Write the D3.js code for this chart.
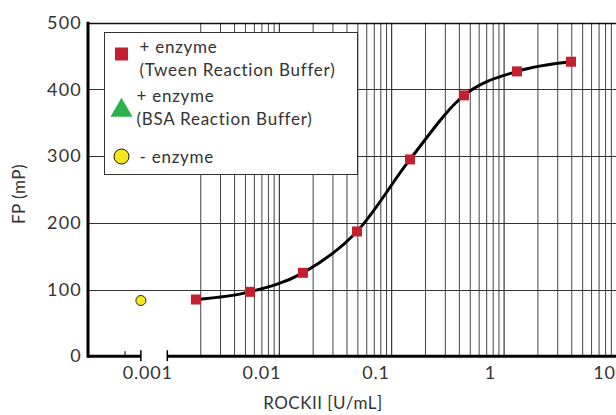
<!DOCTYPE html>
<html>
<head>
<meta charset="utf-8">
<script src="https://cdn.jsdelivr.net/npm/d3@7"></script>
<style>
  body { margin: 0; background: #fff; }
  svg { display: block; font-family: Lato, "Open Sans", sans-serif; }
</style>
</head>
<body>
<svg id="chart" width="616" height="415"></svg>
<script>
// ROCKII titration, FP (mP)
const tweenConc = [0.00267, 0.00794, 0.0231, 0.0687, 0.200, 0.594, 1.73, 5.14];
const tweenFP = [85, 96.5, 125, 187, 295, 391, 427, 441.5];
const noEnzymeConc = [0.00088];
const noEnzymeFP = [83.5];
const xTicks = [0.001, 0.01, 0.1, 1, 10];
const xTickLabels = ["0.001", "0.01", "0.1", "1", "10"];
const yTicks = [0, 100, 200, 300, 400, 500];
const gridDecades = [0.001, 0.01, 0.1, 1];
const gridMultiples = [2, 3, 4, 5, 6, 7, 8, 9, 10];
const axisBreak = [0.00088, 0.0015];
const minorTicks = [0.00064];
const legendItems = [
  { shape: "square", color: "#c41f2e", lines: ["+ enzyme", "(Tween Reaction Buffer)"] },
  { shape: "triangle", color: "#2eb24b", lines: ["+ enzyme", "(BSA Reaction Buffer)"] },
  { shape: "circle", color: "#f4e61a", lines: ["- enzyme"] }
];

const W = 616, H = 415;
const margins = { left: 88, top: 22.7, bottom: 59 };
const svg = d3.select("#chart");

const x = d3.scaleLog().domain([0.001, 10]).range([147.2, 604]);
// the printed log paper sits a little right of the labels
const paperX = d3.scaleLog().domain([0.001, 10]).range([166.9, 616.5]);
const y = d3.scaleLinear().domain([0, 500]).range([H - margins.bottom + 0.2, margins.top]);

// Grid
const gridVals = [];
gridDecades.forEach(d => gridMultiples.forEach(m => gridVals.push(d * m)));
svg.append("g")
  .selectAll("line")
  .data(gridVals)
  .join("line")
  .attr("x1", d => paperX(d)).attr("x2", d => paperX(d))
  .attr("y1", y(500)).attr("y2", y(0))
  .style("stroke", (d, i) => (i % 9 === 8 ? "#111" : "#444"))
  .style("stroke-width", 1);

svg.append("g")
  .selectAll("line")
  .data(yTicks.slice(1))
  .join("line")
  .attr("x1", margins.left).attr("x2", W)
  .attr("y1", d => Math.round(y(d)) + 0.5).attr("y2", d => Math.round(y(d)) + 0.5)
  .style("stroke", d => (d === 500 ? "#111" : "#333"))
  .style("stroke-width", d => (d === 500 ? 1.5 : 1));

// Curve
const tween = tweenConc.map((c, i) => ({ c, v: tweenFP[i] }));
svg.append("path")
  .datum(tween)
  .attr("d", d3.line().x(d => x(d.c)).y(d => y(d.v)).curve(d3.curveMonotoneX))
  .style("fill", "none")
  .style("stroke", "#000")
  .style("stroke-width", 3);

// Points
const sq = 10;
svg.append("g")
  .selectAll("rect")
  .data(tween)
  .join("rect")
  .attr("x", d => x(d.c) - sq / 2)
  .attr("y", d => y(d.v) - sq / 2)
  .attr("width", sq).attr("height", sq)
  .style("fill", "#c41f2e");

svg.append("g")
  .selectAll("circle")
  .data(noEnzymeConc.map((c, i) => ({ c, v: noEnzymeFP[i] })))
  .join("circle")
  .attr("cx", d => x(d.c)).attr("cy", d => y(d.v))
  .attr("r", 5)
  .style("fill", "#f4e61a")
  .style("stroke", "#222")
  .style("stroke-width", 1);

// Axes lines (with a break on x)
const y0 = y(0);
const axisG = svg.append("g").style("stroke", "#000");
axisG.append("line")
  .attr("x1", margins.left).attr("x2", margins.left)
  .attr("y1", y(500) - 1).attr("y2", y0 + 1.5)
  .style("stroke-width", 3);
axisG.append("line")
  .attr("x1", margins.left).attr("x2", x(axisBreak[0]))
  .attr("y1", y0).attr("y2", y0).style("stroke-width", 3);
axisG.append("line")
  .attr("x1", x(axisBreak[1])).attr("x2", W)
  .attr("y1", y0).attr("y2", y0).style("stroke-width", 3);
axisG.selectAll(".brk")
  .data(axisBreak)
  .join("line")
  .attr("x1", d => x(d)).attr("x2", d => x(d))
  .attr("y1", y0 - 6).attr("y2", y0 + 5)
  .style("stroke-width", 1.5);
axisG.selectAll(".minor")
  .data(minorTicks)
  .join("line")
  .attr("x1", d => x(d)).attr("x2", d => x(d))
  .attr("y1", y0 - 5).attr("y2", y0)
  .style("stroke-width", 1);

// Tick labels
const xAxis = svg.append("g")
  .attr("transform", `translate(0, ${y0})`)
  .call(d3.axisBottom(x).tickValues(xTicks).tickSize(0).tickPadding(10)
    .tickFormat((d, i) => xTickLabels[i]));
xAxis.select(".domain").remove();
xAxis.selectAll("text").style("font-size", "18px").style("fill", "#333")
  .style("letter-spacing", "0.8px")
  .style("font-family", "Lato, sans-serif");

const yAxis = svg.append("g")
  .attr("transform", `translate(${margins.left}, 0)`)
  .call(d3.axisLeft(y).tickValues(yTicks).tickSize(0).tickPadding(6));
yAxis.select(".domain").remove();
yAxis.selectAll("text").style("font-size", "18px").style("fill", "#333")
  .style("letter-spacing", "1.2px")
  .style("font-family", "Lato, sans-serif");

// Axis titles
svg.append("text")
  .attr("x", 323).attr("y", 409)
  .attr("text-anchor", "middle")
  .style("font-size", "17px").style("fill", "#333")
  .style("letter-spacing", "0.5px")
  .text("ROCKII [U/mL]");

svg.append("text")
  .attr("transform", `translate(25, 194) rotate(-90)`)
  .attr("text-anchor", "middle")
  .style("font-size", "17px").style("fill", "#333")
  .style("letter-spacing", "0.5px")
  .text("FP (mP)");

// Legend
const lg = svg.append("g").attr("transform", "translate(104.5, 32.5)");
lg.append("rect")
  .attr("width", 253).attr("height", 142)
  .style("fill", "#fff").style("stroke", "#333").style("stroke-width", 1);

const rowY = [22, 71, 124];
legendItems.forEach((it, i) => {
  const g = lg.append("g").attr("transform", `translate(17, ${rowY[i]})`);
  if (it.shape === "square") {
    g.append("rect").attr("x", -6.5).attr("y", -7).attr("width", 13).attr("height", 13)
      .style("fill", it.color);
  } else if (it.shape === "triangle") {
    g.append("path").attr("d", d3.symbol().type(d3.symbolTriangle).size(210)())
      .attr("transform", "translate(0, 7)")
      .style("fill", it.color);
  } else {
    g.append("circle").attr("r", 7.5)
      .style("fill", it.color).style("stroke", "#111").style("stroke-width", 1);
  }
  const t = g.append("text")
    .attr("x", i === 1 ? 15 : 18)
    .attr("y", i === 2 ? 6 : -2)
    .style("font-size", "17px").style("fill", "#333")
    .style("letter-spacing", "0.75px");
  it.lines.forEach((ln, j) => {
    t.append("tspan").attr("x", i === 1 ? 15 : 18).attr("dy", j === 0 ? 0 : 23).text(ln);
  });
});
</script>
</body>
</html>
